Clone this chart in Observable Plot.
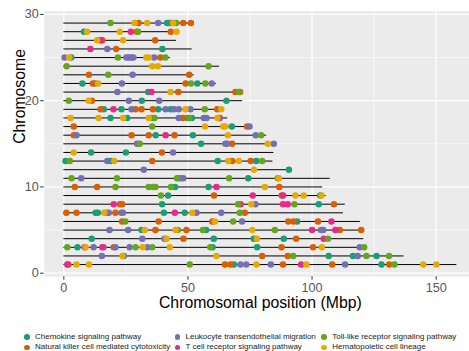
<!DOCTYPE html>
<html><head><meta charset="utf-8">
<script src="https://cdn.jsdelivr.net/npm/d3@7"></script>
<script src="https://cdn.jsdelivr.net/npm/@observablehq/plot@0.6"></script>
<style>
html,body{margin:0;padding:0;background:#fff;overflow:hidden;width:469px;height:351px}
#chart{position:relative;width:469px;height:351px;font-family:"Liberation Sans",Arial,sans-serif;overflow:hidden}
#chart svg{display:block;max-width:none!important}
g[aria-label="x-axis tick label"], g[aria-label="y-axis tick label"]{fill:#555}
g[aria-label="x-axis tick"], g[aria-label="y-axis tick"]{stroke:#333}
#legend{position:absolute;left:24px;top:332px;display:grid;grid-template-columns:150.5px 146.8px auto;grid-auto-flow:column;grid-template-rows:10.4px 10.4px;font-size:8px;line-height:10.4px;color:#1a1a1a;white-space:nowrap}
.item{display:flex;align-items:center}
.key{width:5.5px;height:5.5px;border-radius:50%;margin-right:5.5px;flex:none}
</style></head>
<body>
<div id="chart"></div>
<script>
// ---- data ----
const pathways = [
  "Chemokine signaling pathway",
  "Natural killer cell mediated cytotoxicity",
  "Leukocyte transendothelial migration",
  "T cell receptor signaling pathway",
  "Toll-like receptor signaling pathway",
  "Hematopoietic cell lineage"
];
const colors = ["#1B9E77","#D95F02","#7570B3","#E7298A","#66A61E","#E6AB02"];

const chromosomes = [1,2,3,4,5,6,7,8,9,10,11,12,13,14,15,16,17,18,19,20,21,22,23,24,25,26,27,28,29];
const chrLengths = [158.34,137.06,121.43,120.83,121.19,119.46,112.64,113.38,105.71,104.31,107.31,91.16,84.24,84.65,85.30,81.72,75.16,66.00,64.06,72.04,71.60,61.44,52.53,62.71,42.90,51.68,45.41,46.31,51.51];

// [chromosome, [positions in Mbp]]
const chemokine = [
  [29,[41.6,42.4,43.2]],[28,[8.1]],[26,[39.7]],[25,[3.0]],[22,[7.5,12.6,53.8]],[21,[34.0]],
  [20,[31.4,65.5]],[19,[16.1,23.2,38.0,43.0]],[18,[18.8,25.5,49.9,51.6]],[17,[67.7]],
  [16,[37.0,52.0]],[15,[55.3]],[14,[11.0,25.0]],[13,[0.7,19.0,62.0,77.5]],[12,[90.7]],
  [11,[74.3]],[10,[44.8,58.3]],[9,[42.0,103.3]],[8,[39.6,102.7]],[7,[12.8,13.7,40.3,48.7]],
  [6,[94.0]],[5,[31.3,57.3]],[4,[11.2,60.4,76.5,88.6]],[3,[5.5,59.9,77.9]],
  [2,[106.7,116.5,126.0]],[1,[68.5,128.0]]
];
const naturalKiller = [
  [29,[30.1,44.6,48.1,51.2]],[28,[29.4,43.1]],[27,[14.5,15.5,36.8]],[26,[21.1]],[25,[38.9]],
  [23,[10.1,50.5]],[22,[11.7,49.1]],[21,[46.1,69.1,71.0]],[20,[11.3]],
  [19,[14.8,28.9,31.3,35.9,61.8]],[18,[48.0]],[17,[4.0,73.8]],[16,[4.0,27.3,34.2,44.6]],
  [15,[67.8]],[14,[39.5]],[13,[35.6,67.8,75.3]],[10,[4.4,13.4,86.8]],[9,[60.5,87.8]],
  [8,[22.6,23.5,108.8]],[7,[1.0,5.1,20.8,72.9]],[6,[23.5,38.2,59.8,90.4,92.5,102.4]],
  [5,[36.9,49.4,111.2,119.8]],[4,[48.2,93.6]],[3,[20.1,87.7,100.4]],[2,[79.9,90.2]],
  [1,[1.8,64.9,67.1,88.3,108.1,131.1]]
];
const leukocyte = [
  [29,[38.0]],[26,[17.5]],[25,[0.3,25.2,26.2,27.2,28.0,36.4]],[23,[27.7]],[22,[23.4,59.6]],
  [21,[21.6]],[20,[26.2,38.4]],[19,[27.3,41.0,44.4,46.3,51.0]],[18,[46.3,56.4,57.5,62.8]],
  [17,[74.8]],[16,[5.1,77.3]],[15,[29.5,65.1,65.8,84.6]],[14,[44.0]],[13,[17.5]],[12,[32.2]],
  [11,[7.0,46.2,47.0,48.1]],[8,[77.2]],[7,[17.2,18.1,23.2,23.8,53.4,63.4]],[6,[71.8]],
  [5,[18.4,25.9,103.6,104.5]],[4,[31.6,40.6]],[3,[12.0,16.0,20.8,26.5,33.6,119.2]],
  [2,[15.3,24.2,118.4]],[1,[71.2,73.5,83.4,113.3]]
];
const tCell = [
  [28,[27.0]],[27,[15.1]],[26,[10.7]],[21,[35.3]],[19,[20.0]],[18,[62.6]],[16,[41.0]],
  [10,[61.5]],[9,[76.1,88.3]],[8,[20.1,71.2,88.3,90.2]],[7,[44.7]],[6,[107.8]],
  [5,[100.0,109.4]],[4,[104.7]],[3,[8.4,15.5]],[1,[1.4,95.6]]
];
const tollLike = [
  [29,[18.8,45.3]],[28,[29.9]],[25,[21.8,40.9]],[24,[1.1,58.3]],[23,[17.9]],[22,[51.2,57.0]],
  [21,[70.6]],[20,[2.0]],[19,[56.8]],[18,[35.6,36.5,50.6]],[17,[35.6]],[16,[79.5]],[15,[30.6]],
  [13,[2.4,79.9]],[11,[3.1,21.4,45.6,66.6,86.2]],[10,[20.8,34.2,36.0,36.9,43.2]],[9,[39.1]],
  [8,[70.2,92.9]],[7,[70.9]],[6,[24.8,68.2]],[5,[45.9,56.0,85.0]],[4,[106.4]],
  [3,[1.4,28.9,35.6,59.0,121.0]],[2,[92.4,121.9,131.0]],[1,[50.7,133.2]]
];
const hematopoietic = [
  [29,[28.5,33.6,44.0]],[28,[9.4,22.5,45.4]],[27,[13.4,23.9]],[25,[2.2,33.2,34.3]],[24,[35.6,37.9]],
  [22,[13.8]],[21,[43.0]],[20,[10.0]],[19,[49.0,63.4]],[18,[2.7,14.0,23.9,34.2,61.9]],
  [17,[56.9,64.2,65.0]],[16,[66.1]],[15,[82.2]],[14,[4.0]],[13,[20.3,66.2,70.5]],[12,[76.6]],
  [11,[86.6]],[10,[81.0]],[9,[93.3,96.6,103.8]],[8,[75.5]],[7,[16.3,51.7]],[6,[60.9]],
  [5,[32.6,45.0,75.9]],[4,[41.4,77.8]],[3,[8.8,31.8,42.7,103.9]],[2,[23.6,61.5]],
  [1,[5.1,10.1,77.6,97.7,144.8,150.1]]
];

const xTicks = [0,50,100,150];
const yTicks = [0,10,20,30];
const xMinor = [25,75,125];
const yMinor = [5,15,25];
const xTitle = "Chromosomal position (Mbp)";
const yTitle = "Chromosome";

// ---- build tables ----
const series = [chemokine, naturalKiller, leukocyte, tCell, tollLike, hematopoietic];
const points = series.flatMap((s, k) =>
  s.flatMap(([chr, ps]) => ps.map(pos => ({chr, pos, pathway: pathways[k]}))));
const rows = chromosomes.map((c, i) => ({chr: c, len: chrLengths[i]}));

const W = 476, H = 318;
const plot = Plot.plot({
  width: W, height: H,
  marginLeft: 43.7, marginRight: 0, marginTop: 10.5, marginBottom: 41.85,
  style: {fontFamily: '"Liberation Sans", Arial, sans-serif', fontSize: "12.6px", background: "white", color: "black", overflow: "visible", maxWidth: "none"},
  x: {domain: [-7.915, 166.255], ticks: xTicks},
  y: {domain: [-0.4, 30.4], ticks: yTicks},
  color: {domain: pathways, range: colors},
  marks: [
    Plot.frame({fill: "#EBEBEB", stroke: "none"}),
    Plot.ruleX(xMinor, {stroke: "white", strokeWidth: 0.6}),
    Plot.ruleY(yMinor, {stroke: "white", strokeWidth: 0.6}),
    Plot.ruleX(xTicks, {stroke: "white", strokeWidth: 1.2}),
    Plot.ruleY(yTicks, {stroke: "white", strokeWidth: 1.2}),
    Plot.ruleY(rows, {y: "chr", x1: () => 0, x2: "len", stroke: "black", strokeWidth: 1}),
    Plot.dot(points, {x: "pos", y: "chr", fill: "pathway", r: 3.25, stroke: "none"}),
    Plot.axisX({ticks: xTicks, tickSize: 3.5, tickPadding: 2.5, label: null, fontSize: 12.6}),
    Plot.axisY({ticks: yTicks, tickSize: 3.5, tickPadding: 2, label: null, fontSize: 12.6}),
    Plot.text([xTitle], {frameAnchor: "bottom", dy: 26, text: d => d, fontSize: 15.8, fill: "black", lineAnchor: "middle"}),
    Plot.text([yTitle], {frameAnchor: "left", dx: -24.7, rotate: -90, text: d => d, fontSize: 15.8, fill: "black", lineAnchor: "middle"})
  ]
});
const chart = document.getElementById("chart");
chart.appendChild(plot);

// legend (column-major, 3 columns x 2 rows)
const legend = document.createElement("div");
legend.id = "legend";
pathways.forEach((p, i) => {
  const item = document.createElement("div");
  item.className = "item";
  const key = document.createElement("span");
  key.className = "key";
  key.style.background = colors[i];
  const label = document.createElement("span");
  label.textContent = p;
  item.appendChild(key); item.appendChild(label);
  legend.appendChild(item);
});
chart.appendChild(legend);
</script>
</body></html>
